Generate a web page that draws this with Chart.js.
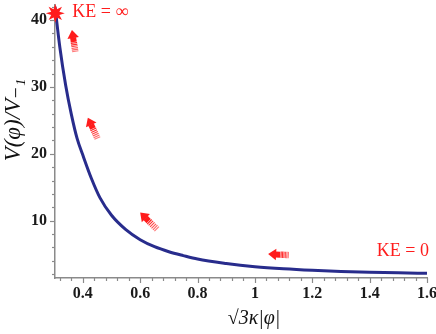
<!DOCTYPE html>
<html>
<head>
<meta charset="utf-8">
<script src="https://cdn.jsdelivr.net/npm/chart.js@4.4.0/dist/chart.umd.min.js"></script>
<style>
  html, body { margin: 0; padding: 0; background: #fff; }
  #chart { display: block; }
</style>
</head>
<body>
<canvas id="chart" width="436" height="334"></canvas>
<script>
// curve values
const phi = [0.303, 0.32, 0.34, 0.36, 0.38, 0.40, 0.43, 0.46, 0.50, 0.55, 0.60, 0.65, 0.70, 0.75, 0.80, 0.90, 1.00, 1.10, 1.20, 1.30, 1.40, 1.50, 1.60];
const potential = [42.0, 35.9, 30.3, 25.9, 22.3, 19.8, 16.3, 13.4, 10.8, 8.65, 7.15, 6.1, 5.35, 4.77, 4.25, 3.6, 3.12, 2.8, 2.57, 2.4, 2.28, 2.19, 2.12];

// axis ticks
const xTicks = [0.4, 0.6, 0.8, 1.0, 1.2, 1.4, 1.6];
const yTicks = [10, 20, 30, 40];

// the red arrows: tip and tail in data units
const arrowTipX = [0.362, 0.4175, 0.600, 1.046];
const arrowTipY = [38.5, 25.4, 11.2, 5.0];
const arrowTailX = [0.373, 0.449, 0.655, 1.112];
const arrowTailY = [35.5, 22.5, 8.86, 4.86];

// star marking KE = infinity
const starX = [0.304];
const starY = [41.0];

const red = 'rgb(255,28,28)';
const axisGrey = '#8a8a8a';

function drawStar(c, cx, cy, rOut, rIn, n) {
  c.beginPath();
  for (let i = 0; i < n * 2; i++) {
    const r = i % 2 === 0 ? rOut : rIn;
    const a = -Math.PI / 2 + i * Math.PI / n;
    const px = cx + r * Math.cos(a), py = cy + r * Math.sin(a);
    if (i === 0) c.moveTo(px, py); else c.lineTo(px, py);
  }
  c.closePath();
  c.fill();
}

function drawArrow(c, tx, ty, bx, by) {
  const dx = tx - bx, dy = ty - by;
  const L = Math.hypot(dx, dy);
  const ux = dx / L, uy = dy / L;
  const px = -uy, py = ux;
  c.fillStyle = red;
  c.strokeStyle = red;
  // head
  c.beginPath();
  c.moveTo(tx, ty);
  c.lineTo(tx - ux * 8 + px * 5.8, ty - uy * 8 + py * 5.8);
  c.lineTo(tx - ux * 8 - px * 5.8, ty - uy * 8 - py * 5.8);
  c.closePath();
  c.fill();
  // short solid shaft
  c.beginPath();
  const s0 = 7.5, s1 = 12;
  c.moveTo(tx - ux * s0 + px * 3, ty - uy * s0 + py * 3);
  c.lineTo(tx - ux * s1 + px * 3, ty - uy * s1 + py * 3);
  c.lineTo(tx - ux * s1 - px * 3, ty - uy * s1 - py * 3);
  c.lineTo(tx - ux * s0 - px * 3, ty - uy * s0 - py * 3);
  c.closePath();
  c.fill();
  // hatched tail
  c.lineWidth = 1.1;
  for (let k = 0; k < 6; k++) {
    const d = s1 + 1 + k * (L + 2 - s1 - 1) / 5.5;
    const cxp = tx - ux * d, cyp = ty - uy * d;
    c.globalAlpha = 1 - k * 0.08;
    c.beginPath();
    c.moveTo(cxp + px * 3.2, cyp + py * 3.2);
    c.lineTo(cxp - px * 3.2, cyp - py * 3.2);
    c.stroke();
  }
  c.globalAlpha = 1;
}

const decorations = {
  id: 'decorations',
  afterDraw(chart) {
    const c = chart.ctx;
    const xs = chart.scales.x, ys = chart.scales.y;
    const area = chart.chartArea;
    c.save();

    // axis tick marks (major and minor)
    c.strokeStyle = axisGrey;
    c.lineWidth = 1.2;
    for (let v = 2; v <= 42; v += 2) {
      const y = Math.round(ys.getPixelForValue(v)) + 0.5;
      const len = v % 10 === 0 ? 5 : 3;
      c.beginPath();
      c.moveTo(area.left, y);
      c.lineTo(area.left - len, y);
      c.stroke();
    }
    for (let i = 8; i <= 40; i++) {
      const v = i * 0.04;
      const x = Math.round(xs.getPixelForValue(v)) + 0.5;
      const len = (i % 5 === 0) ? 5 : 3;
      c.beginPath();
      c.moveTo(x, area.bottom);
      c.lineTo(x, area.bottom + len);
      c.stroke();
    }

    // arrows
    for (let i = 0; i < arrowTipX.length; i++) {
      drawArrow(c,
        xs.getPixelForValue(arrowTipX[i]), ys.getPixelForValue(arrowTipY[i]),
        xs.getPixelForValue(arrowTailX[i]), ys.getPixelForValue(arrowTailY[i]));
    }

    // star
    c.fillStyle = red;
    for (let i = 0; i < starX.length; i++) {
      drawStar(c, xs.getPixelForValue(starX[i]), ys.getPixelForValue(starY[i]), 9.5, 4.4, 8);
    }

    // KE labels
    c.fillStyle = red;
    c.font = '18px "Liberation Serif", "DejaVu Serif", serif';
    c.textBaseline = 'middle';
    c.textAlign = 'left';
    c.fillText('KE = ∞', xs.getPixelForValue(starX[0]) + 17, ys.getPixelForValue(starY[0]) - 1);
    c.textAlign = 'right';
    c.fillText('KE = 0', area.right + 2, ys.getPixelForValue(5.36));

    // axis titles
    c.fillStyle = '#111';
    c.textAlign = 'center';
    c.textBaseline = 'middle';
    c.font = 'italic 20px "Liberation Serif", "DejaVu Serif", serif';
    c.fillText('√3κ|φ|', 254, 319);
    c.translate(14, 120);
    c.rotate(-Math.PI / 2);
    c.font = 'italic 23px "Liberation Serif", "DejaVu Serif", serif';
    c.fillText('V(φ)/V₋₁', 0, 0);
    c.restore();
  }
};

const tickFont = { family: '"Liberation Serif", "DejaVu Serif", serif', size: 16, weight: 'bold' };

new Chart(document.getElementById('chart'), {
  type: 'line',
  data: {
    datasets: [{
      data: phi.map((x, i) => ({ x: x, y: potential[i] })),
      borderColor: 'rgb(40,44,140)',
      borderWidth: 3,
      pointRadius: 0,
      cubicInterpolationMode: 'monotone',
      fill: false
    }]
  },
  options: {
    responsive: false,
    animation: false,
    devicePixelRatio: 1,
    layout: { padding: { top: 5, right: 9, left: 0, bottom: 0 } },
    plugins: { legend: { display: false }, tooltip: { enabled: false } },
    scales: {
      x: {
        type: 'linear',
        min: 0.303,
        max: 1.6,
        bounds: 'data',
        grid: { display: false, drawTicks: false },
        border: { display: true, color: axisGrey, width: 1.5 },
        ticks: {
          font: tickFont,
          color: '#1a1a1a',
          padding: 6,
          maxRotation: 0,
          callback: (v) => String(Math.round(v * 10) / 10)
        },
        afterBuildTicks: (s) => { s.ticks = xTicks.map(v => ({ value: v })); },
        afterFit: (s) => { s.height = 56; s.paddingLeft = 0; s.paddingRight = 0; }
      },
      y: {
        type: 'linear',
        min: 1.42,
        max: 42.25,
        bounds: 'data',
        grid: { display: false, drawTicks: false },
        border: { display: true, color: axisGrey, width: 1.5 },
        ticks: { font: tickFont, color: '#1a1a1a', padding: 8 },
        afterBuildTicks: (s) => { s.ticks = yTicks.map(v => ({ value: v })); },
        afterFit: (s) => { s.width = 55; s.paddingTop = 0; s.paddingBottom = 0; }
      }
    }
  },
  plugins: [decorations]
});
</script>
</body>
</html>
